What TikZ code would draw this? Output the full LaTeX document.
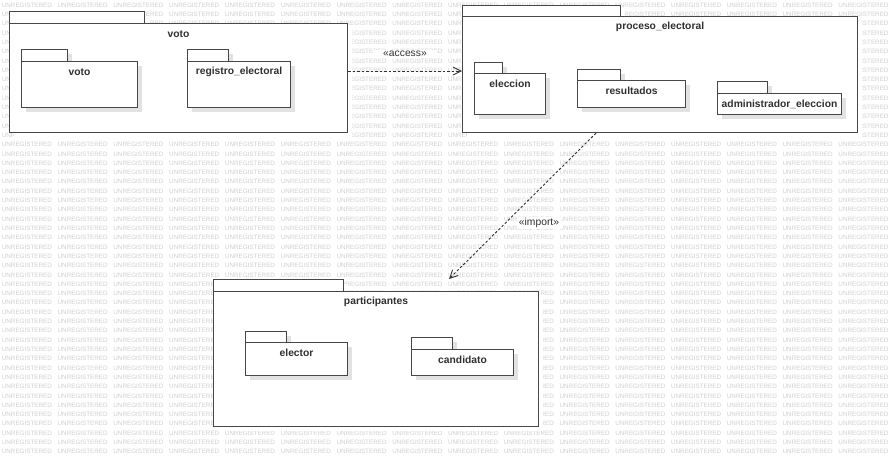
\documentclass[tikz,border=0pt]{standalone}
\usepackage{fontspec}
\setmainfont{Liberation Sans}
\usetikzlibrary{arrows.meta}
\definecolor{ln}{HTML}{474747}
\definecolor{wm}{HTML}{CFCFCF}
\definecolor{shd}{HTML}{E2E2E2}
\definecolor{txt}{HTML}{303030}
\newcommand\pkgbox[9]{% #1 name, #2 x1, #3 tab x2, #4 tab top, #5 body top, #6 x2, #7 y2, #8 text, #9 shadow colour
  \fill[#9] ({#2+5},{#4+5}) rectangle ({#3+5},{#5+5});
  \fill[#9] ({#2+5},{#5+5}) rectangle ({#6+5},{#7+5});
  \draw[tabbox] (#2,#4) rectangle (#3,#5);
  \node[pkgbody, minimum width={#6-#2}, minimum height={#7-#5}] (#1) at (#2,#5) {};
  \node[pkgtitle] (#1-t) at ([yshift=-11pt]#1.north) {#8};
}
\begin{document}
\begin{tikzpicture}[x=1pt,y=-1pt,
  tabbox/.style={draw=ln, line width=0.9pt, fill=white},
  pkgbody/.style={draw=ln, line width=1.1pt, fill=white, inner sep=0pt, anchor=north west},
  pkgtitle/.style={font=\fontsize{10.3}{12}\selectfont\bfseries, text=txt, inner sep=0pt},
  wmk/.style={font=\fontsize{6.3}{7}\selectfont, text=wm, inner sep=0pt, anchor=west},
  dep/.style={draw=txt, line width=0.9pt, dash pattern=on 2.5pt off 2pt, -{Straight Barb[length=8pt,width=8pt]}},
  deplbl/.style={font=\fontsize{10.3}{12}\selectfont, text=txt, fill=white, inner ysep=1.5pt}]
\useasboundingbox (0,0) rectangle (892,459);
\fill[white] (0,0) rectangle (892,459);
\foreach \r in {0,...,48}{
  \foreach \c in {0,...,15}{
    \node[wmk] (w-\r-\c) at ({1.7+55.77*\c},{5+9.306*\r}) {UNREGISTERED};
  }
}
% outer packages
\pkgbox{vo}{9}{144}{11}{23}{347}{132}{voto}{white}
\pkgbox{pe}{462}{620}{5}{16}{857}{132}{proceso\_electoral}{white}
\pkgbox{pa}{213}{343}{279}{291}{538}{426}{participantes}{white}
% inner packages
\pkgbox{vv}{21}{67}{49}{61}{137}{107}{voto}{shd}
\pkgbox{re}{187}{228}{49}{61}{290}{107}{registro\_electoral}{shd}
\pkgbox{el}{474}{502}{62}{73}{545}{114}{eleccion}{shd}
\pkgbox{rs}{577}{620}{69}{80}{685}{107}{resultados}{shd}
\pkgbox{ad}{717}{767}{81}{93}{841}{114}{administrador\_eleccion}{shd}
\pkgbox{ec}{245}{286}{331}{342}{347}{375}{elector}{shd}
\pkgbox{ca}{411}{452}{337}{349}{513}{375}{candidato}{shd}
% dependencies
\coordinate (acc) at (0,71);
\draw[dep] (vo.east |- acc) -- (pe.west |- acc);
\node[deplbl, inner xsep=10pt] (accl) at (405,54) {«access»};
\coordinate (impEnd) at (449,279);
\draw[dep] ([xshift=-64pt]pe.south) -- (impEnd);
\node[deplbl, inner xsep=2pt] (impl) at (539,223) {«import»};
\end{tikzpicture}
\end{document}
